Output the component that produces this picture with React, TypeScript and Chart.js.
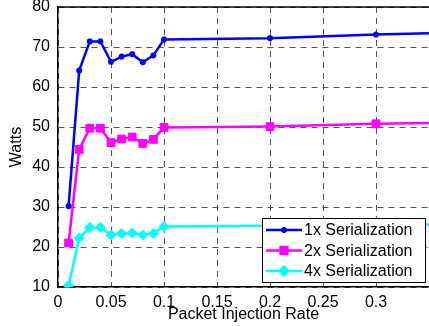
import React, { useEffect, useRef } from "react";
import { Chart, registerables } from "chart.js";

Chart.register(...registerables);

const injectionRates = [0.01, 0.02, 0.03, 0.04, 0.05, 0.06, 0.07, 0.08, 0.09, 0.1, 0.2, 0.3, 0.4];
const serial1x = [30.2, 64.1, 71.4, 71.4, 66.3, 67.6, 68.2, 66.2, 67.9, 71.9, 72.2, 73.1, 73.8];
const serial2x = [21.0, 44.4, 49.7, 49.7, 46.1, 47.0, 47.5, 45.9, 46.9, 49.9, 50.1, 50.8, 51.2];
const serial4x = [10.3, 22.2, 24.9, 24.9, 23.0, 23.4, 23.5, 23.0, 23.4, 25.1, 25.3, 25.5, 25.7];
const seriesLabels = ["1x Serialization", "2x Serialization", "4x Serialization"];
const xTickValues = [0, 0.05, 0.1, 0.15, 0.2, 0.25, 0.3];
const xTickLabels = ["0", "0.05", "0.1", "0.15", "0.2", "0.25", "0.3"];
const yTickValues = [10, 20, 30, 40, 50, 60, 70, 80];

const FONT_FAMILY = 'Arial, "Liberation Sans", Helvetica, sans-serif';
const colors = ["#0000ff", "#ff00ff", "#00ffff"];
const markers = ["star", "rect", "rectRot"];
const markerRadius = [3, 5.5, 5];

function drawMarker(ctx: CanvasRenderingContext2D, style: string, x: number, y: number, r: number, color: string) {
  ctx.save();
  ctx.fillStyle = color;
  ctx.strokeStyle = color;
  ctx.lineWidth = 1.5;
  ctx.beginPath();
  if (style === "rect") {
    const s = r * Math.SQRT1_2;
    ctx.rect(x - s, y - s, 2 * s, 2 * s);
    ctx.fill();
    ctx.stroke();
  } else if (style === "rectRot") {
    ctx.moveTo(x - r, y);
    ctx.lineTo(x, y - r);
    ctx.lineTo(x + r, y);
    ctx.lineTo(x, y + r);
    ctx.closePath();
    ctx.fill();
    ctx.stroke();
  } else {
    ctx.lineWidth = 2;
    for (let i = 0; i < 4; i++) {
      const a = (i * Math.PI) / 4;
      ctx.moveTo(x - Math.cos(a) * r, y - Math.sin(a) * r);
      ctx.lineTo(x + Math.cos(a) * r, y + Math.sin(a) * r);
    }
    ctx.stroke();
  }
  ctx.restore();
}

const framePlugin = {
  id: "frameAndLegend",
  beforeDatasetsDraw(chart: any) {
    const { ctx, chartArea } = chart;
    ctx.save();
    ctx.strokeStyle = "#000";
    ctx.lineWidth = 1.5;
    ctx.beginPath();
    ctx.moveTo(chartArea.left, chartArea.top);
    ctx.lineTo(chartArea.right, chartArea.top);
    ctx.stroke();
    ctx.restore();
  },
  afterDraw(chart: any) {
    const { ctx } = chart;
    const bx = 262, by = 218, bw = 163, bh = 64;
    ctx.save();
    ctx.fillStyle = "#fff";
    ctx.fillRect(bx, by, bw, bh);
    ctx.strokeStyle = "#000";
    ctx.lineWidth = 1;
    ctx.strokeRect(bx + 0.5, by + 0.5, bw, bh);
    ctx.font = `16px ${FONT_FAMILY}`;
    ctx.textBaseline = "middle";
    ctx.textAlign = "left";
    chart.data.datasets.forEach((ds: any, i: number) => {
      const y = by + 12 + i * 20.5;
      ctx.strokeStyle = ds.borderColor;
      ctx.lineWidth = 2.5;
      ctx.beginPath();
      ctx.moveTo(266, y);
      ctx.lineTo(302, y);
      ctx.stroke();
      drawMarker(ctx, ds.pointStyle, 284, y, ds.pointRadius, ds.borderColor);
      ctx.fillStyle = "#000";
      ctx.fillText(ds.label, 304, y + 1);
    });
    ctx.restore();
  },
};

export default function App() {
  const canvasRef = useRef<HTMLCanvasElement | null>(null);

  useEffect(() => {
    if (!canvasRef.current) return;
    const seriesValues = [serial1x, serial2x, serial4x];
    const font = { family: FONT_FAMILY, size: 16 };
    const gridOpts = { color: "#555", lineWidth: 1, drawTicks: false };
    const chart = new Chart(canvasRef.current, {
      type: "line",
      data: {
        datasets: seriesValues.map((vals, i) => ({
          label: seriesLabels[i],
          data: injectionRates.map((x, j) => ({ x, y: vals[j] })),
          borderColor: colors[i],
          backgroundColor: colors[i],
          borderWidth: 2.5,
          pointStyle: markers[i] as any,
          pointRadius: markerRadius[i],
          pointBorderWidth: i === 0 ? 2 : 1,
          tension: 0,
          fill: false,
        })),
      },
      options: {
        animation: false,
        responsive: false,
        devicePixelRatio: 1,
        layout: { padding: 0, autoPadding: false },
        plugins: { legend: { display: false }, tooltip: { enabled: false } },
        scales: {
          x: {
            type: "linear",
            min: 0,
            max: 0.35,
            afterBuildTicks: (s: any) => {
              s.ticks = xTickValues.map((v) => ({ value: v }));
            },
            afterFit: (s: any) => {
              s.height = 39;
              s.paddingLeft = 0;
              s.paddingRight = 0;
            },
            ticks: {
              font,
              color: "#000",
              padding: 6,
              maxRotation: 0,
              autoSkip: false,
              callback: (v: any) => {
                const k = xTickValues.indexOf(Number(v));
                return k >= 0 ? xTickLabels[k] : "";
              },
            },
            grid: gridOpts,
            border: { color: "#000", width: 1.5, dash: [6, 5] },
            title: {
              display: true,
              text: "Packet Injection Rate",
              font,
              color: "#000",
              padding: { top: 0, bottom: 2 },
            },
          },
          y: {
            type: "linear",
            min: 10,
            max: 80,
            afterBuildTicks: (s: any) => {
              s.ticks = yTickValues.map((v) => ({ value: v }));
            },
            afterFit: (s: any) => {
              s.width = 58;
              s.paddingTop = 7;
              s.paddingBottom = 0;
            },
            ticks: { font, color: "#000", padding: 8 },
            grid: gridOpts,
            border: { color: "#000", width: 1.5, dash: [6, 5] },
            title: {
              display: true,
              text: "Watts",
              font,
              color: "#000",
              padding: { top: 7, bottom: 0 },
            },
          },
        },
      },
      plugins: [framePlugin],
    });
    return () => chart.destroy();
  }, []);

  return (
    <div style={{ position: "fixed", left: 0, top: 0, width: 429, height: 326, background: "#fff" }}>
      <canvas ref={canvasRef} width={429} height={326} style={{ display: "block" }} />
    </div>
  );
}
